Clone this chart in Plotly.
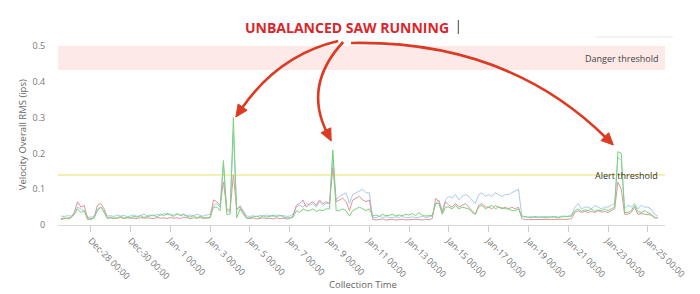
import math
import pandas as pd
import plotly.graph_objects as go

# ---------------- data ----------------
times = pd.date_range("2017-12-26 12:00", "2018-01-25 12:00", freq="4h")

blue = [
    .025, .024, .026,
    .025, .03, .05, .045, .04, .022,
    .022, .025, .045, .05, .04, .025,
    .026, .024, .028, .025, .027, .023,
    .025, .028, .024, .027, .03, .026,
    .028, .025, .03, .027, .032, .029,
    .03, .027, .031, .028, .03, .026,
    .028, .026, .03, .027, .025, .028,
    .03, .055, .06, .05, .17, .04,
    .035, .26, .04, .055, .04, .025,
    .024, .026, .023, .027, .025, .028,
    .026, .024, .028, .025, .027, .024,
    .025, .03, .05, .055, .05, .06,
    .055, .06, .05, .065, .055, .06,
    .06, .2, .07, .08, .085, .09,
    .06, .085, .09, .095, .1, .09,
    .09, .022, .02, .024, .021, .023,
    .022, .02, .023, .021, .024, .02,
    .021, .023, .02, .022, .024, .021,
    .022, .025, .06, .07, .04, .07,
    .08, .075, .085, .07, .08, .085,
    .08, .07, .06, .085, .09, .08,
    .085, .08, .09, .085, .08, .085,
    .085, .09, .095, .1, .025, .022,
    .022, .024, .021, .023, .022, .024,
    .023, .021, .024, .022, .025, .023,
    .025, .028, .05, .06, .045, .05,
    .05, .045, .055, .05, .045, .05,
    .05, .055, .06, .19, .18, .045,
    .055, .05, .06, .045, .055, .05,
    .05, .045, .03, .025,
]

red = [
    .018, .02, .017,
    .02, .035, .065, .05, .055, .02,
    .018, .02, .055, .06, .045, .02,
    .02, .018, .019, .021, .018, .02,
    .019, .02, .018, .021, .019, .02,
    .02, .018, .021, .019, .02, .018,
    .021, .019, .02, .018, .022, .019,
    .018, .02, .019, .021, .018, .02,
    .022, .07, .065, .055, .12, .045,
    .04, .14, .045, .05, .035, .02,
    .018, .02, .017, .019, .02, .018,
    .019, .017, .02, .018, .019, .017,
    .018, .025, .055, .06, .07, .05,
    .06, .065, .055, .07, .06, .065,
    .06, .16, .065, .07, .075, .065,
    .04, .07, .075, .08, .07, .065,
    .07, .016, .014, .015, .017, .014,
    .015, .016, .014, .015, .016, .014,
    .015, .014, .016, .015, .014, .016,
    .015, .018, .075, .065, .035, .065,
    .055, .05, .06, .05, .055, .06,
    .05, .04, .03, .055, .06, .05,
    .05, .045, .055, .05, .045, .05,
    .045, .05, .045, .05, .018, .015,
    .015, .014, .016, .015, .014, .016,
    .015, .016, .014, .015, .016, .014,
    .016, .018, .035, .04, .035, .038,
    .035, .038, .035, .04, .036, .038,
    .035, .04, .045, .12, .1, .03,
    .03, .035, .05, .03, .032, .03,
    .03, .028, .02, .02,
]

green = [
    .015, .018, .02,
    .02, .03, .045, .035, .04, .015,
    .015, .02, .04, .05, .035, .018,
    .022, .018, .02, .024, .019, .021,
    .02, .024, .022, .026, .021, .023,
    .025, .028, .022, .03, .026, .033,
    .028, .024, .032, .026, .029, .024,
    .022, .026, .02, .024, .021, .019,
    .02, .05, .05, .04, .18, .03,
    .03, .30, .02, .045, .03, .018,
    .02, .023, .025, .021, .026, .022,
    .024, .027, .022, .028, .023, .02,
    .02, .022, .04, .035, .045, .04,
    .04, .045, .038, .042, .04, .045,
    .045, .21, .04, .04, .045, .04,
    .025, .04, .045, .05, .045, .04,
    .045, .025, .028, .024, .03, .026,
    .027, .03, .025, .028, .026, .03,
    .028, .032, .026, .035, .027, .025,
    .026, .027, .06, .06, .03, .05,
    .05, .045, .055, .045, .05, .048,
    .045, .035, .03, .05, .055, .045,
    .05, .055, .045, .05, .048, .045,
    .045, .04, .04, .045, .025, .024,
    .022, .02, .024, .021, .023, .02,
    .021, .024, .022, .02, .023, .025,
    .023, .025, .04, .045, .038, .042,
    .04, .045, .038, .042, .04, .045,
    .04, .045, .05, .205, .2, .035,
    .035, .04, .055, .038, .035, .04,
    .035, .03, .022, .02,
]

danger_low, danger_high = 0.433, 0.5
alert_level = 0.14
tick_dates = pd.date_range("2017-12-28", "2018-01-25", freq="2D")

# ---------------- figure ----------------
L, R, T, B = 58, 669, 46, 225   # plot area in pixels


def px(x):
    return (x - L) / (R - L)


def py(y):
    return (B - y) / (B - T)


fig = go.Figure()
series = [("blue", blue, "#a9cbea"), ("red", red, "#e0939c"), ("green", green, "#78d478")]
for name, vals, col in series:
    fig.add_trace(go.Scatter(x=times, y=vals, mode="lines", name=name,
                             line=dict(color=col, width=1), showlegend=False))

shapes = [
    dict(type="rect", xref="paper", yref="y", x0=0, x1=1, y0=danger_low, y1=danger_high,
         fillcolor="#fde9e7", line=dict(width=0), layer="below"),
    dict(type="line", xref="paper", yref="y", x0=0, x1=1, y0=alert_level, y1=alert_level,
         line=dict(color="#f0ed96", width=1.5), layer="below"),
    dict(type="line", xref="paper", yref="paper", x0=px(461), x1=px(461), y0=py(20), y1=py(34),
         line=dict(color="#666666", width=1.2)),
    dict(type="line", xref="paper", yref="paper", x0=px(600), x1=px(677), y0=py(37), y1=py(37),
         line=dict(color="#e6e6e6", width=1)),
]

arrow_col = "#dc3a22"
arrows = [
    ((340, 41), (280, 55), (237, 117)),
    ((345, 42), (305, 85), (333, 141)),
    ((353, 43), (510, 40), (617, 145)),
]
for (sx, sy), (cx, cy), (ex, ey) in arrows:
    dx, dy = ex - cx, ey - cy
    n = math.hypot(dx, dy)
    ux, uy = dx / n, dy / n
    head_len, half_w = 12, 5.5
    bx, by = ex - ux * head_len, ey - uy * head_len
    qx, qy = ex - ux * (head_len - 2), ey - uy * (head_len - 2)
    path = f"M {px(sx)},{py(sy)} Q {px(cx)},{py(cy)} {px(qx)},{py(qy)}"
    shapes.append(dict(type="path", xref="paper", yref="paper", path=path,
                       line=dict(color=arrow_col, width=2.6)))
    lx, ly = bx - uy * half_w, by + ux * half_w
    rx, ry = bx + uy * half_w, by - ux * half_w
    head = f"M {px(ex)},{py(ey)} L {px(lx)},{py(ly)} L {px(rx)},{py(ry)} Z"
    shapes.append(dict(type="path", xref="paper", yref="paper", path=head,
                       fillcolor=arrow_col, line=dict(color=arrow_col, width=1)))

annotations = [
    dict(text="<b>UNBALANCED SAW RUNNING</b>", xref="paper", yref="paper",
         x=px(349), y=py(27.5), xanchor="center", yanchor="middle", showarrow=False,
         font=dict(family="Open Sans", size=14, color="#d9262c")),
    dict(text="Danger threshold", xref="paper", yref="paper", x=px(664), y=py(58.5),
         xanchor="right", yanchor="middle", showarrow=False,
         font=dict(family="Open Sans", size=9, color="#444444")),
    dict(text="Alert threshold", xref="paper", yref="paper", x=px(664), y=py(175.5),
         xanchor="right", yanchor="middle", showarrow=False,
         font=dict(family="Open Sans", size=9, color="#333333")),
    dict(text="Collection Time", xref="paper", yref="paper", x=px(365), y=py(284),
         xanchor="center", yanchor="middle", showarrow=False,
         font=dict(family="Open Sans", size=9.5, color="#666666")),
    dict(text="Velocity Overall RMS (ips)", xref="paper", yref="paper", x=px(22), y=py(135),
         xanchor="center", yanchor="middle", showarrow=False, textangle=-90,
         font=dict(family="Open Sans", size=9.5, color="#666666")),
]

fig.update_layout(
    width=700, height=294,
    margin=dict(l=L, r=700 - R, t=T, b=294 - B, pad=0),
    paper_bgcolor="white", plot_bgcolor="white",
    shapes=shapes, annotations=annotations,
    xaxis=dict(
        range=[pd.Timestamp("2017-12-26 08:24"), pd.Timestamp("2018-01-25 20:45")],
        tickvals=tick_dates, tickformat="%b-%e %H:%M", tickangle=45,
        showgrid=False, zeroline=False, showline=True, linecolor="#d9d9d9", linewidth=1,
        ticks="outside", ticklen=6, tickcolor="#cccccc",
        tickfont=dict(family="Open Sans", size=9, color="#777777"),
    ),
    yaxis=dict(
        range=[0, 0.5], dtick=0.1, showgrid=False, zeroline=False, showline=False,
        ticks="outside", ticklen=10, tickcolor="rgba(0,0,0,0)",
        tickfont=dict(family="Open Sans", size=9, color="#777777"),
    ),
)

fig.write_html("out.html")
